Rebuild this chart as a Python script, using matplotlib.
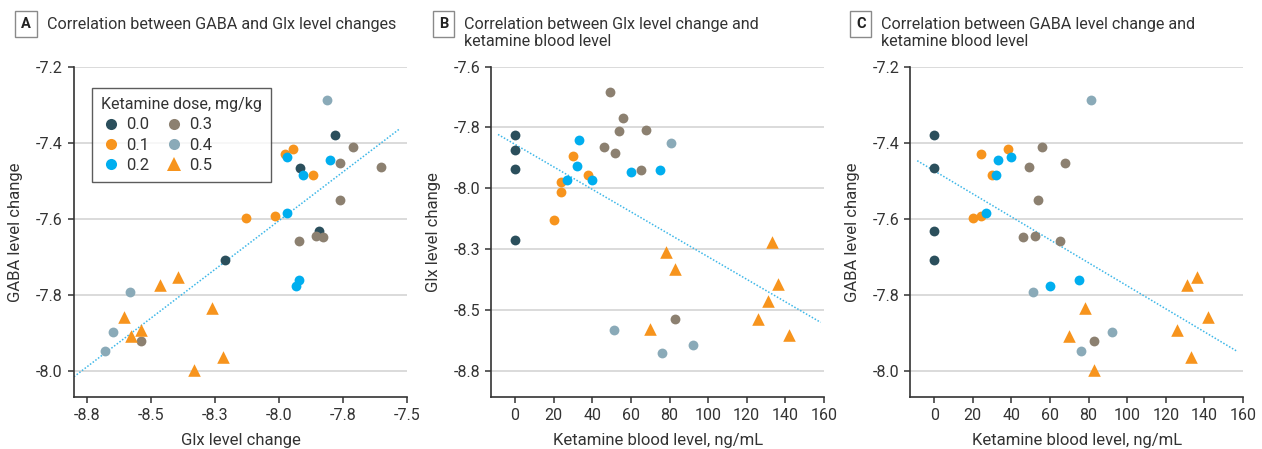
import numpy as np
import matplotlib
matplotlib.use('Agg')
import matplotlib.pyplot as plt
from matplotlib.lines import Line2D

plt.rcParams['font.family'] = ['Roboto', 'DejaVu Sans']

# one entry per participant (same person in all three panels)
dose = [0.0, 0.0, 0.0, 0.0,
        0.1, 0.1, 0.1, 0.1, 0.1,
        0.2, 0.2, 0.2, 0.2, 0.2, 0.2,
        0.3, 0.3, 0.3, 0.3, 0.3, 0.3, 0.3, 0.3,
        0.4, 0.4, 0.4, 0.4,
        0.5, 0.5, 0.5, 0.5, 0.5, 0.5, 0.5, 0.5]
glx = [-7.780, -7.844, -7.919, -8.211,
       -7.975, -7.944, -7.866, -8.130, -8.016,
       -7.967, -7.801, -7.907, -7.967, -7.923, -7.935,
       -7.711, -7.762, -7.603, -7.763, -7.854, -7.829, -7.923, -8.539,
       -7.814, -8.583, -8.646, -8.677,
       -8.463, -8.393, -8.603, -8.263, -8.577, -8.537, -8.219, -8.333]
gaba = [-7.379, -7.632, -7.467, -7.708,
        -7.430, -7.416, -7.484, -7.598, -7.593,
        -7.438, -7.446, -7.485, -7.586, -7.761, -7.778,
        -7.411, -7.454, -7.464, -7.552, -7.645, -7.647, -7.658, -7.922,
        -7.288, -7.794, -7.898, -7.948,
        -7.774, -7.754, -7.858, -7.836, -7.908, -7.893, -7.963, -7.999]
ket = [0, 0, 0, 0,
       24, 38, 30, 20, 24,
       40, 33, 32, 27, 75, 60,
       56, 68, 49, 54, 52, 46, 65, 83,
       81, 51, 92, 76,
       131, 136, 142, 78, 70, 126, 133, 83]

dose_levels = [0.0, 0.1, 0.2, 0.3, 0.4, 0.5]
dose_labels = ['0.0', '0.1', '0.2', '0.3', '0.4', '0.5']
colors = ['#2b4f5c', '#f7941d', '#00aeef', '#8c8070', '#8aaab8', '#f7941d']
markers = ['o', 'o', 'o', 'o', 'o', '^']

glx_ticks = [-8.75, -8.5, -8.25, -8.0, -7.75, -7.5]
glx_ticklabels = ['-8.8', '-8.5', '-8.3', '-8.0', '-7.8', '-7.5']
gaba_ticks = [-7.2, -7.4, -7.6, -7.8, -8.0]
gaba_ticklabels = ['-7.2', '-7.4', '-7.6', '-7.8', '-8.0']
glxB_ticks = [-7.5, -7.75, -8.0, -8.25, -8.5, -8.75]
glxB_ticklabels = ['-7.6', '-7.8', '-8.0', '-8.3', '-8.5', '-8.8']
ket_ticks = [0, 20, 40, 60, 80, 100, 120, 140, 160]

TXT = '#333333'
GRID = '#dadada'
FIT = '#3db7e8'
FS = 11.5

dose = np.array(dose)
glx = np.array(glx)
gaba = np.array(gaba)
ket = np.array(ket, dtype=float)

W, H = 1262, 449
fig = plt.figure(figsize=(W / 100, H / 100), dpi=100)

axA = fig.add_axes([0.0586, 0.1151, 0.2639, 0.7363])
axB = fig.add_axes([0.3893, 0.1151, 0.2636, 0.7363])
axC = fig.add_axes([0.7213, 0.1151, 0.2636, 0.7363])


def scatter_groups(ax, x, y):
    for lvl, col, mk in zip(dose_levels, colors, markers):
        m = np.isclose(dose, lvl)
        s = 82 if mk == '^' else 50
        ax.scatter(x[m], y[m], s=s, c=col, marker=mk, linewidths=0, zorder=3)


def fit_line(ax, x, y, xr):
    k, b = np.polyfit(x, y, 1)
    xr = np.array(xr)
    ax.plot(xr, k * xr + b, color=FIT, lw=1.1, ls=(0, (1, 1.2)), zorder=2)


def style(ax, xt, xtl, yt, ytl, xlim, ylim, xlabel, ylabel):
    ax.set_xlim(*xlim)
    ax.set_ylim(*ylim)
    ax.set_xticks(xt)
    ax.set_xticklabels(xtl)
    ax.set_yticks(yt)
    ax.set_yticklabels(ytl)
    for sp in ['top', 'right']:
        ax.spines[sp].set_visible(False)
    for sp in ['left', 'bottom']:
        ax.spines[sp].set_color(TXT)
        ax.spines[sp].set_linewidth(1.2)
    ax.tick_params(colors=TXT, labelcolor=TXT, labelsize=FS, length=4, width=1.1, pad=4)
    ax.yaxis.grid(True, color=GRID, lw=1.4)
    ax.set_axisbelow(True)
    ax.set_xlabel(xlabel, fontsize=FS + 0.5, color=TXT, labelpad=7)
    ax.set_ylabel(ylabel, fontsize=FS + 0.5, color=TXT, labelpad=9)


# A
scatter_groups(axA, glx, gaba)
fit_line(axA, glx, gaba, [-8.80, -7.53])
style(axA, glx_ticks, glx_ticklabels, gaba_ticks, gaba_ticklabels,
      (-8.80, -7.5), (-8.07, -7.2), 'Glx level change', 'GABA level change')

handles = [Line2D([], [], ls='none', marker=mk, color=c, markersize=10 if mk == '^' else 8,
                  markeredgewidth=0)
           for c, mk in zip(colors, markers)]
leg = axA.legend(handles, dose_labels, title='Ketamine dose, mg/kg', ncol=2,
                 loc='upper left', bbox_to_anchor=(0.054, 0.936), fancybox=False,
                 fontsize=FS + 0.5, title_fontsize=FS, handletextpad=0.3, columnspacing=0.9,
                 labelspacing=0.32, borderpad=0.55, handlelength=1.2, alignment='left',
                 borderaxespad=0)
leg.get_frame().set_edgecolor(TXT)
leg.get_frame().set_linewidth(1.0)
for t in leg.get_texts():
    t.set_color(TXT)
leg.get_title().set_color(TXT)

# B
scatter_groups(axB, ket, glx)
fit_line(axB, ket, glx, [-8.8, 158.3])
style(axB, ket_ticks, [str(v) for v in ket_ticks], glxB_ticks, glxB_ticklabels,
      (-12.3, 160), (-8.86, -7.5), 'Ketamine blood level, ng/mL', 'Glx level change')

# C
scatter_groups(axC, ket, gaba)
fit_line(axC, ket, gaba, [-8.8, 157.3])
style(axC, ket_ticks, [str(v) for v in ket_ticks], gaba_ticks, gaba_ticklabels,
      (-12.4, 160), (-8.07, -7.2), 'Ketamine blood level, ng/mL', 'GABA level change')

# panel titles
box = dict(boxstyle='square,pad=0.4', fc='white', ec='#8a8a8a', lw=1.0)
titles = [(25.8, 'A', 47, ['Correlation between GABA and Glx level changes']),
          (443.8, 'B', 464, ['Correlation between Glx level change and', 'ketamine blood level']),
          (860.7, 'C', 881, ['Correlation between GABA level change and', 'ketamine blood level'])]
for lx, letter, tx, lines in titles:
    fig.text(lx / W, 1 - 24 / H, letter, fontsize=10.5, fontweight='bold', color='#222222',
             ha='center', va='center', bbox=box)
    for i, line in enumerate(lines):
        fig.text(tx / W, 1 - (24 + 18 * i) / H, line, fontsize=11.6, color=TXT,
                 ha='left', va='center')

fig.savefig('out.png', dpi=100)
